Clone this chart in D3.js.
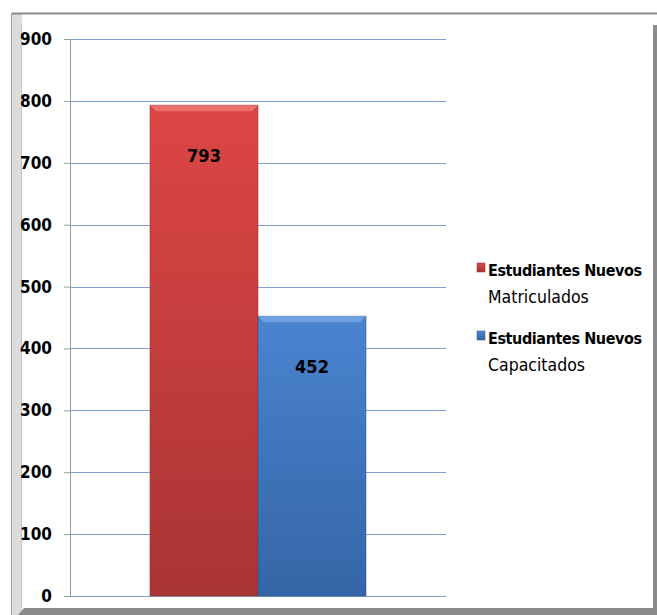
<!DOCTYPE html>
<html>
<head>
<meta charset="utf-8">
<script src="https://cdn.jsdelivr.net/npm/d3@7"></script>
<style>
  body { margin: 0; background: #fff; overflow: hidden; }
  svg { display: block; }
  text { font-family: "Liberation Sans Narrow", "DejaVu Sans Condensed", sans-serif; font-weight: bold; }
</style>
</head>
<body>
<div id="chart"></div>
<script>
// Data
var seriesNames = ["Estudiantes Nuevos Matriculados", "Estudiantes Nuevos Capacitados"];
var seriesValues = [793, 452];
var legendLines = [["Estudiantes Nuevos", "Matriculados"], ["Estudiantes Nuevos", "Capacitados"]];
var tickValues = [0, 100, 200, 300, 400, 500, 600, 700, 800, 900];

var svgWidth = 657;
var svgHeight = 615;

var chartMargin = { top: 39, left: 70 };
var chartWidth = 376;
var chartHeight = 557;

var svg = d3.select("#chart")
    .append("svg")
    .attr("width", svgWidth)
    .attr("height", svgHeight);

var defs = svg.append("defs");
var colors = [
    { id: "gradRed", top: "#dd4645", bottom: "#a93434", light: "#ef7a77", edge: "#8e2b2b" },
    { id: "gradBlue", top: "#4a84d0", bottom: "#3565a6", light: "#7aa8e6", edge: "#2b5288" }
];
colors.forEach(function (c) {
    var g = defs.append("linearGradient")
        .attr("id", c.id)
        .attr("x1", 0).attr("y1", 0).attr("x2", 0).attr("y2", 1);
    g.append("stop").attr("offset", "0%").attr("stop-color", c.top);
    g.append("stop").attr("offset", "100%").attr("stop-color", c.bottom);
});

// Frame around the chart (background part)
svg.append("rect")
    .attr("x", 12).attr("y", 13)
    .attr("width", 642).attr("height", 594)
    .attr("fill", "#fff");
svg.append("rect")
    .attr("x", 12).attr("y", 13)
    .attr("width", 10).attr("height", 602)
    .attr("fill", "#dcdcdc");
svg.append("line")
    .attr("x1", 21.5).attr("x2", 21.5)
    .attr("y1", 24).attr("y2", 608)
    .attr("stroke", "#c4c4c4");

var chartGroup = svg.append("g")
    .attr("transform", `translate(${chartMargin.left}, ${chartMargin.top})`);

var yLinearScale = d3.scaleLinear()
    .domain([0, 900])
    .range([chartHeight, 0]);

var xBandScale = d3.scaleBand()
    .domain(seriesNames)
    .range([80, 296])
    .padding(0);

// Gridlines
chartGroup.selectAll(".grid")
    .data(tickValues)
    .enter()
    .append("line")
    .attr("x1", 0).attr("x2", chartWidth)
    .attr("y1", d => Math.round(yLinearScale(d)) + 0.5)
    .attr("y2", d => Math.round(yLinearScale(d)) + 0.5)
    .attr("stroke", "#7d9fd3")
    .attr("stroke-width", 1);

// Y axis
var leftAxis = d3.axisLeft(yLinearScale)
    .tickValues(tickValues)
    .tickSize(6)
    .tickPadding(12);
var yAxis = chartGroup.append("g")
    .call(leftAxis);
yAxis.select(".domain").attr("stroke", "#9a9a9a");
yAxis.selectAll(".tick line").attr("stroke", "#9a9a9a");
yAxis.selectAll(".tick text")
    .attr("fill", "#000")
    .style("font-size", "17px");

// Bars
var barsGroup = chartGroup.selectAll(".bar")
    .data(seriesValues)
    .enter()
    .append("g")
    .attr("class", "bar");

barsGroup.append("rect")
    .attr("x", (d, i) => xBandScale(seriesNames[i]))
    .attr("y", d => yLinearScale(d))
    .attr("width", xBandScale.bandwidth())
    .attr("height", d => chartHeight - yLinearScale(d))
    .attr("fill", (d, i) => `url(#${colors[i].id})`)
    .attr("stroke", (d, i) => colors[i].edge)
    .attr("stroke-opacity", 0.5)
    .attr("stroke-width", 1);

// bevel highlight at top of each bar
barsGroup.append("path")
    .attr("d", function (d, i) {
        var x0 = xBandScale(seriesNames[i]);
        var x1 = x0 + xBandScale.bandwidth();
        var y0 = yLinearScale(d);
        var b = 6;
        return `M${x0},${y0}L${x1},${y0}L${x1 - b},${y0 + b}L${x0 + b},${y0 + b}Z`;
    })
    .attr("fill", (d, i) => colors[i].light)
    .attr("opacity", 0.8);

// Value labels
barsGroup.append("text")
    .attr("x", (d, i) => xBandScale(seriesNames[i]) + xBandScale.bandwidth() / 2)
    .attr("y", d => yLinearScale(d) + 57)
    .attr("text-anchor", "middle")
    .style("font-size", "18px")
    .attr("fill", "#000")
    .text(d => d);

// Legend
var legend = svg.append("g")
    .attr("transform", "translate(477, 263)");

var legendItems = legend.selectAll(".legend-item")
    .data(seriesNames)
    .enter()
    .append("g")
    .attr("class", "legend-item")
    .attr("transform", (d, i) => `translate(0, ${i * 68})`);

legendItems.append("rect")
    .attr("width", 8).attr("height", 9)
    .attr("fill", (d, i) => `url(#${colors[i].id})`)
    .attr("stroke", (d, i) => colors[i].edge)
    .attr("stroke-width", 0.5);

legendItems.append("text")
    .attr("x", 11)
    .attr("y", 13)
    .attr("fill", "#000")
    .selectAll("tspan")
    .data((d, i) => legendLines[i])
    .enter()
    .append("tspan")
    .attr("x", 11)
    .attr("dy", (d, j) => j === 0 ? 0 : 27)
    .style("font-size", (d, j) => j === 0 ? "16px" : "17.5px")
    .style("font-weight", (d, j) => j === 0 ? "bold" : "normal")
    .style("letter-spacing", (d, j) => j === 0 ? "-0.4px" : "0px")
    .text(d => d);

// Frame around the chart (edges drawn on top)
svg.append("line")
    .attr("x1", 12).attr("x2", 657)
    .attr("y1", 13.5).attr("y2", 13.5)
    .attr("stroke", "#8c8c8c").attr("stroke-width", 2);
svg.append("line")
    .attr("x1", 11.5).attr("x2", 11.5)
    .attr("y1", 13).attr("y2", 615)
    .attr("stroke", "#a0a0a0").attr("stroke-width", 1);
svg.append("rect")
    .attr("x", 653).attr("y", 25)
    .attr("width", 4).attr("height", 590)
    .attr("fill", "#8c8c8c");
svg.append("path")
    .attr("d", "M18,615L24,608L657,608L657,615Z")
    .attr("fill", "#8a8a8a");
</script>
</body>
</html>
